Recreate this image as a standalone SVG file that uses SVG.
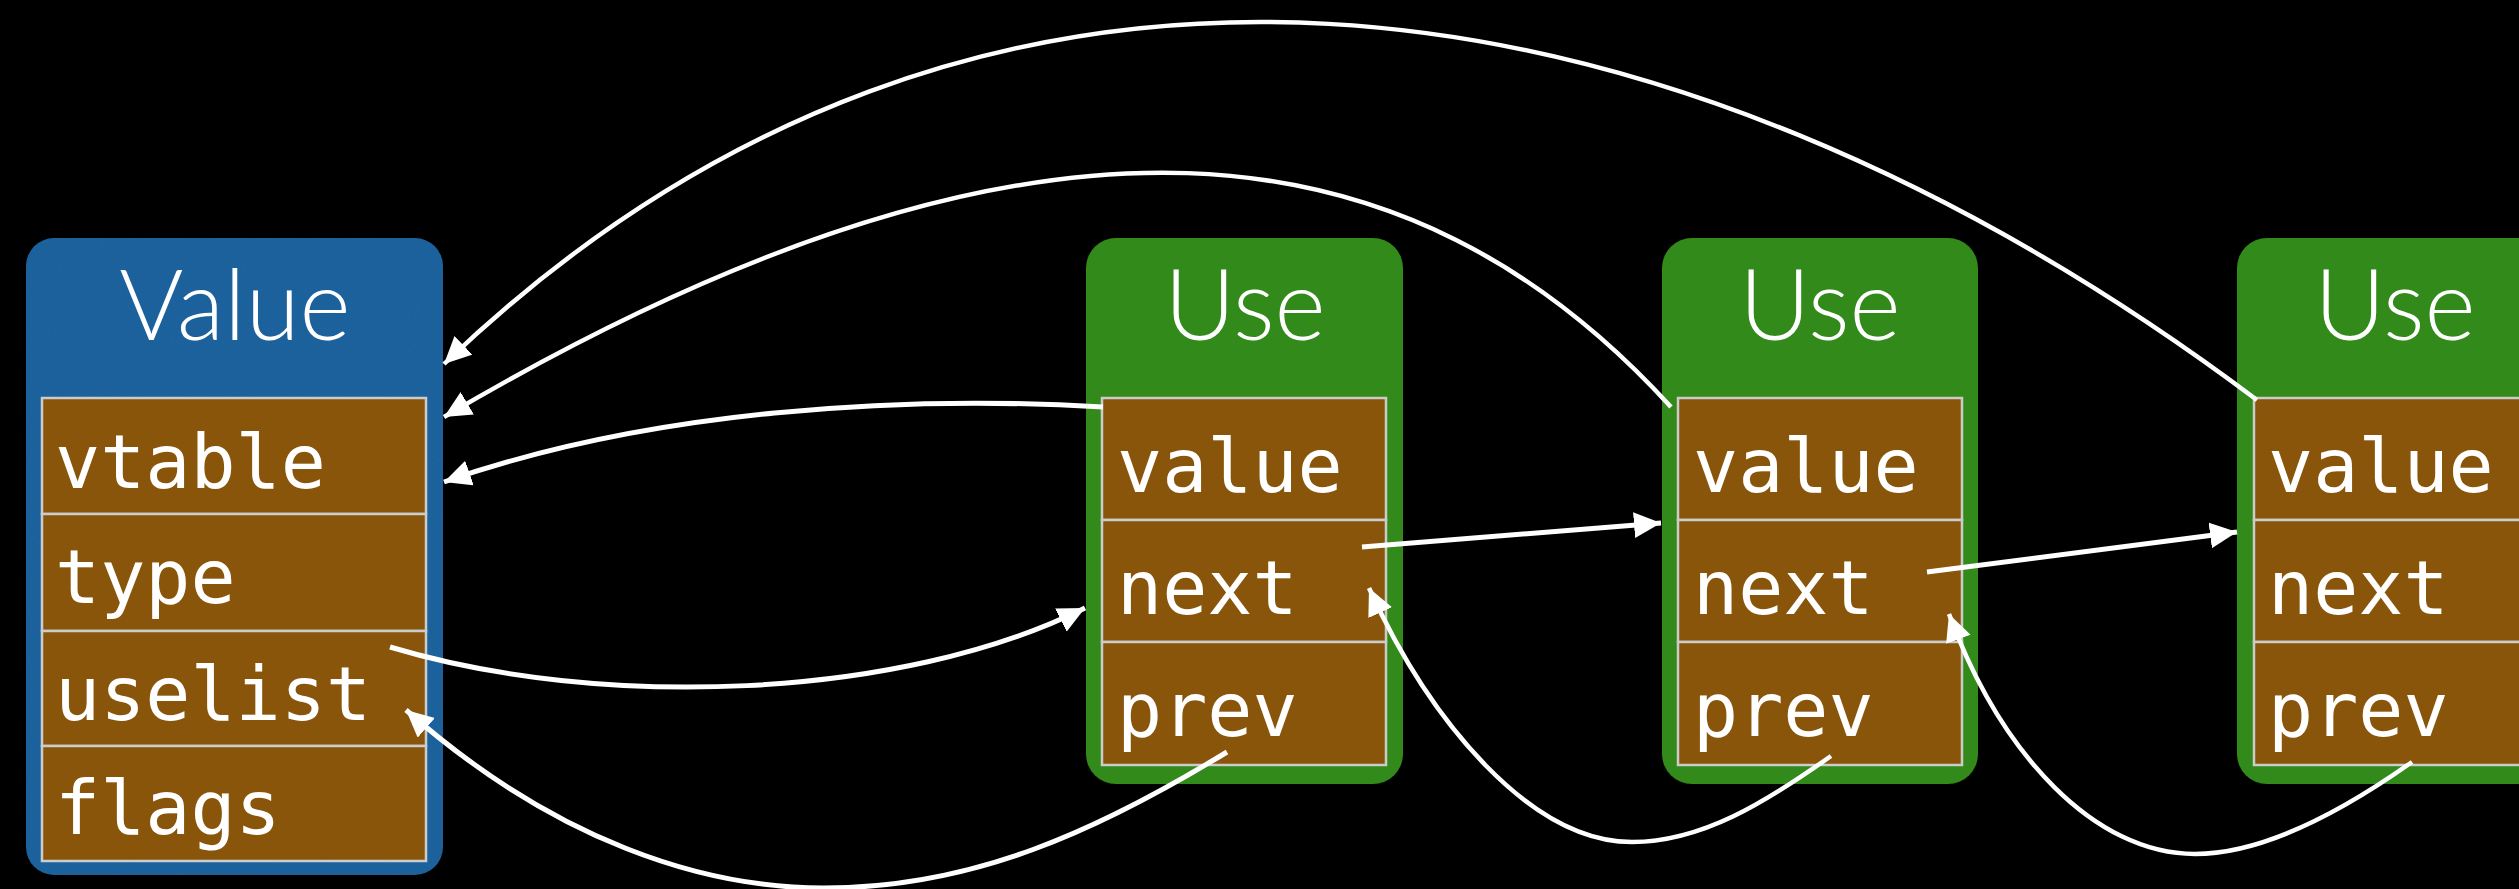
<svg xmlns="http://www.w3.org/2000/svg" width="2519" height="889" viewBox="0 0 2519 889">
  <style>
    .value-box { fill: #2465a1; }
    .use-box { fill: #318a19; }
    .field { fill: #89550b; stroke: #cccccc; stroke-width: 2.5; }
    .title { font-family: Lato, Roboto, "Liberation Sans", sans-serif; font-weight: 300; font-size: 98px; fill: #ffffff; text-anchor: middle; }
    .label { font-family: "DejaVu Sans Mono", "Liberation Mono", monospace; font-size: 75px; fill: #ffffff; }
    .link { fill: none; stroke: #ffffff; stroke-width: 5; marker-end: url(#head); }
    .thin { stroke-width: 4.5; }
  </style>
  <defs>
    <marker id="head" markerUnits="userSpaceOnUse" markerWidth="30" markerHeight="28" refX="27" refY="13" orient="auto">
      <path d="M0,0 L27,13 L0,26 Z" fill="#ffffff"/>
    </marker>
    <filter id="grain" x="0" y="0" width="100%" height="100%">
      <feTurbulence type="fractalNoise" baseFrequency="0.9" numOctaves="2" seed="3" result="noise"/>
      <feColorMatrix in="noise" type="matrix" values="0 0 0 0 0  0 0 0 0 0  0 0 0 0 0  0 0 0 0.12 0" result="dots"/>
      <feComposite in="dots" in2="SourceGraphic" operator="in" result="dotsIn"/>
      <feMerge><feMergeNode in="SourceGraphic"/><feMergeNode in="dotsIn"/></feMerge>
    </filter>
  </defs>

  <rect width="2519" height="889" fill="#000000"/>

  <!-- Value object -->
  <g id="value-node">
    <rect class="value-box" x="26" y="238" width="417" height="637" rx="28" filter="url(#grain)"/>
    <text class="title" x="235" y="340">Value</text>
    <rect class="field" x="42" y="398" width="384" height="116"/>
    <rect class="field" x="42" y="514" width="384" height="117"/>
    <rect class="field" x="42" y="631" width="384" height="115"/>
    <rect class="field" x="42" y="746" width="384" height="115"/>
    <text class="label" x="55" y="488">vtable</text>
    <text class="label" x="55" y="603">type</text>
    <text class="label" x="55" y="720">uselist</text>
    <text class="label" x="55" y="834">flags</text>
  </g>

  <!-- Use #1 -->
  <g id="use-node-1">
    <rect class="use-box" x="1086" y="238" width="317" height="546" rx="30"/>
    <text class="title" x="1245" y="340">Use</text>
    <rect class="field" x="1102" y="398" width="284" height="122"/>
    <rect class="field" x="1102" y="520" width="284" height="122"/>
    <rect class="field" x="1102" y="642" width="284" height="123"/>
    <text class="label" x="1117" y="492">value</text>
    <text class="label" x="1117" y="614">next</text>
    <text class="label" x="1117" y="736">prev</text>
  </g>

  <!-- Use #2 -->
  <g id="use-node-2">
    <rect class="use-box" x="1662" y="238" width="316" height="546" rx="30"/>
    <text class="title" x="1820" y="340">Use</text>
    <rect class="field" x="1678" y="398" width="284" height="122"/>
    <rect class="field" x="1678" y="520" width="284" height="122"/>
    <rect class="field" x="1678" y="642" width="284" height="123"/>
    <text class="label" x="1693" y="492">value</text>
    <text class="label" x="1693" y="614">next</text>
    <text class="label" x="1693" y="736">prev</text>
  </g>

  <!-- Use #3 (runs past the right edge) -->
  <g id="use-node-3">
    <rect class="use-box" x="2237" y="238" width="316" height="546" rx="30"/>
    <text class="title" x="2395" y="340">Use</text>
    <rect class="field" x="2254" y="398" width="284" height="122"/>
    <rect class="field" x="2254" y="520" width="284" height="122"/>
    <rect class="field" x="2254" y="642" width="284" height="123"/>
    <text class="label" x="2268" y="492">value</text>
    <text class="label" x="2268" y="614">next</text>
    <text class="label" x="2268" y="736">prev</text>
  </g>

  <!-- pointers -->
  <g id="connectors">
    <!-- Use.value -> Value -->
    <path class="link thin" d="M2257,400 C1665,-44 977,-147 444,364"/>
    <path class="link thin" d="M1671,407 C1415,126 1047,61 444,417"/>
    <path class="link" d="M1103,407 C900,395 650,410 444,482"/>
    <!-- Value.uselist -> first Use -->
    <path class="link" d="M390,647 C600,710 900,700 1085,608"/>
    <!-- Use.next -> following Use -->
    <path class="link" d="M1362,547 L1661,523"/>
    <path class="link" d="M1927,572 L2237,532"/>
    <!-- Use.prev -> previous next-slot -->
    <path class="link" d="M1227,752 C1099,830 974,888 824,888 C704,888 556,842 406,710"/>
    <path class="link thin" d="M1831,756 C1766,802 1702,842 1632,842 C1532,842 1431,724 1369,588"/>
    <path class="link thin" d="M2412,762 C2347,808 2265,854 2195,854 C2095,854 2001,755 1949,614"/>
  </g>
</svg>
